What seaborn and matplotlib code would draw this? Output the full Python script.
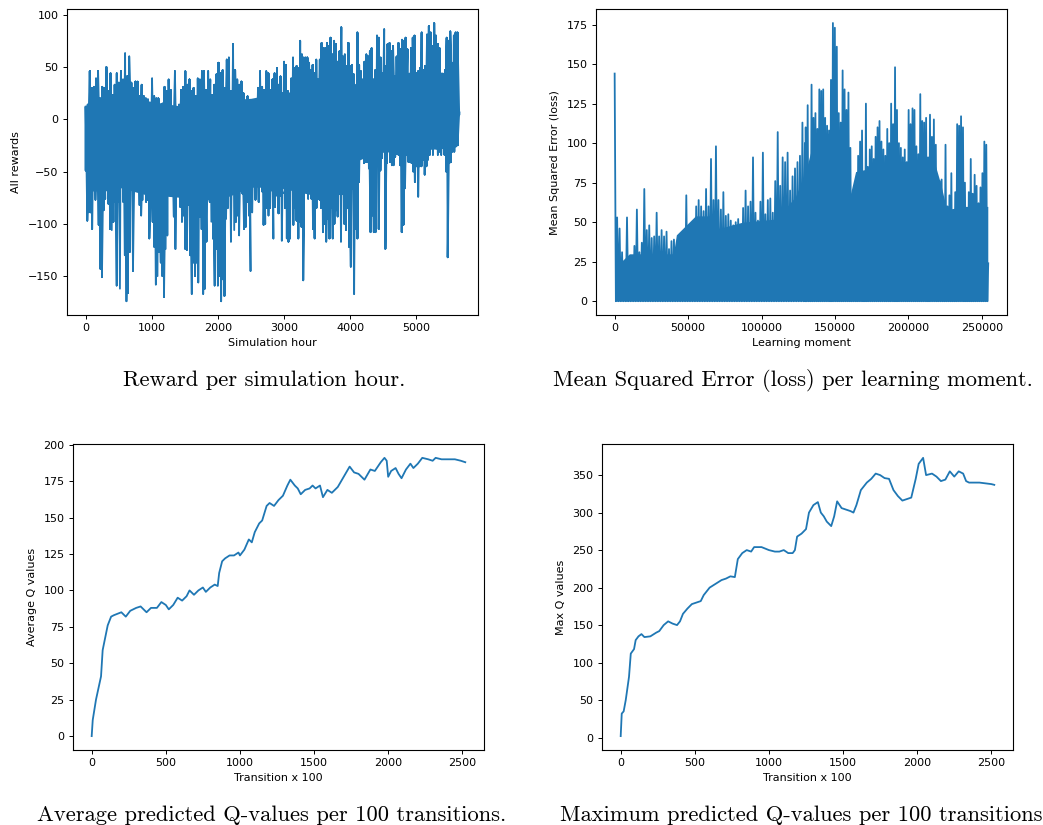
import numpy as np
import matplotlib
matplotlib.use('Agg')
import matplotlib.pyplot as plt
import seaborn as sns

# Reward per simulation hour: spike tips, first half (0-2890 h)
reward_peaks_a = [12, 14, 46, 30, 31, 39, 46, 20, 31, 30, 50, 27, 44, 23, 33, 44, 35, 46, 38, 63,
                  41, 60, 35, 30, 36, 36, 22, 33, 22, 20, 19, 15, 39, 22, 20, 20, 7, 15, 31, 27,
                  38, 28, 11, 46, 7, 14, 28, 31, 46, 33, 38, 27, 30, 22, 39, 38, 46, 46, 28, 46,
                  38, 23, 33, 43, 54, 44, 47, 30, 57, 59, 27, 72, 47, 38, 33, 36, 25, 12, 22, 1,
                  11, 1, 11, 30, 46, 31, 28, 46, 44, 28, 38, 44, 38]
reward_lows_a = [-49, -97, -89, -89, -105, -68, -77, -68, -101, -143, -151, -87, -76, -68, -81, -105,
                 -106, -98, -79, -159, -79, -162, -31, -79, -130, -174, -166, -127, -28, -145, -29,
                 -55, -60, -82, -92, -77, -60, -79, -77, -114, -76, -98, -122, -158, -150, -127,
                 -137, -150, -170, -124, -111, -60, -73, -68, -93, -124, -68, -49, -84, -98, -92,
                 -124, -125, -82, -130, -167, -137, -150, -137, -156, -93, -105, -167, -162, -117,
                 -55, -79, -98, -114, -159, -124, -159, -150, -174, -153, -169, -95, -85, -58, -117,
                 -63, -106, -98, -92, -111, -61, -71, -105, -103, -79, -92, -145, -89, -60, -77,
                 -60, -79, -61, -69, -101, -100, -85, -92, -85, -68, -114, -84, -55]
# second half (2890-5650 h)
reward_peaks_b = [49, 33, 41, 25, 55, 52, 27, 19, 39, 59, 49, 51, 49, 75, 62, 59, 59, 59, 54, 47,
                  52, 44, 57, 38, 57, 73, 68, 68, 73, 70, 78, 62, 75, 72, 55, 65, 88, 60, 62, 51,
                  73, 51, 52, 43, 28, 83, 52, 46, 38, 55, 62, 60, 65, 68, 38, 47, 80, 78, 59, 44,
                  86, 51, 72, 73, 65, 70, 41, 60, 73, 67, 76, 75, 78, 67, 38, 68, 78, 80, 44, 46,
                  49, 83, 47, 51, 81, 89, 83, 70, 92, 80, 72, 68, 39, 43, 47, 78, 75, 84, 54, 80,
                  83, 83, 7]
reward_lows_b = [-73, -90, -73, -116, -61, -85, -114, -117, -114, -53, -101, -85, -97, -114, -98,
                 -103, -154, -66, -50, -76, -33, -76, -105, -114, -85, -76, -77, -85, -108, -100,
                 -117, -95, -114, -85, -114, -100, -87, -93, -63, -117, -68, -100, -106, -85, -122,
                 -141, -66, -167, -105, -114, -60, -31, -31, -42, -41, -41, -47, -108, -92, -108,
                 -108, -44, -105, -49, -37, -29, -124, -42, -28, -41, -44, -44, -36, -33, -34, -44,
                 -108, -101, -66, -34, -41, -41, -42, -50, -60, -45, -74, -45, -45, -39, -53, -45,
                 -39, -34, -25, -34, -25, -28, -34, -31, -34, -26, -34, -50, -132, -42, -41, -31,
                 -31, -26, -25, 4]
# band in which the reward trace is drawn solid
reward_core_hour = [0, 100, 500, 900, 1500, 2000, 2500, 2900, 3400, 3900, 4100, 4400, 4900, 5400, 5640]
reward_core_hi = [0, 15, 20, 18, 12, 18, 20, 25, 28, 28, 35, 40, 45, 45, 30]
reward_core_lo = [-40, -60, -65, -72, -75, -78, -65, -65, -72, -72, -40, -32, -30, -28, -20]

# MSE loss per learning moment: spike tips (the loss falls back to ~0 between them)
mse_peaks_a = [144, 53, 46, 31, 23, 53, 20, 26, 35, 58, 31, 37, 71, 45, 48, 40, 41, 56, 41, 45,
               41, 44, 33, 38, 39, 32, 36, 35, 36, 67, 46, 45, 50, 60, 64, 60, 57, 71, 60, 90,
               64, 98, 64, 58, 69, 54, 55, 51, 48, 50, 52, 48, 59, 70, 60, 63, 91, 56, 51, 63,
               94, 55, 64, 65, 56, 76, 107, 73, 91, 88, 94, 70, 79, 84, 88, 92, 113, 100]
mse_peaks_b = [110, 124, 76, 137, 116, 119, 109, 134, 133, 134, 116, 111, 108, 140, 176, 173, 161,
               119, 113, 146, 134, 121, 132, 97, 65, 73, 70, 92, 101, 108, 81, 125, 85, 96, 98,
               90, 104, 110, 114, 101, 96, 92, 109, 100, 125, 112, 148, 121, 100, 97, 91, 96, 88,
               121, 112, 122, 121, 98, 93, 131, 114, 113, 116, 91, 118, 104, 115, 99, 77, 76, 77,
               41, 99, 60, 67, 81, 56, 69, 112, 111, 117, 110, 75, 41, 69, 90, 68, 80, 73, 62, 72,
               81, 101, 99, 24]
mse_floor = 0
# level up to which the loss trace is drawn solid
mse_base_moment = [0, 1000, 10000, 40000, 42000, 55000, 69000, 71000, 87000, 110000, 123000,
                   130000, 135000, 148000, 157000, 159000, 164000, 194000, 217000, 222000,
                   226000, 239000, 254000]
mse_base = [0, 22, 30, 30, 42, 54, 54, 46, 50, 52, 66, 82, 100, 108, 108, 62, 82, 88, 90, 74,
            58, 60, 60]

# Q values per 100 transitions
q_avg_step = [0, 7, 29, 63, 74, 92, 108, 131, 150, 200, 230, 260, 300, 330, 370, 400, 440, 470,
              500, 520, 550, 580, 610, 640, 660, 690, 720, 750, 770, 800, 830, 850, 860, 880, 900,
              930, 960, 990, 1000, 1030, 1060, 1080, 1100, 1130, 1150, 1180, 1200, 1230, 1260,
              1290, 1320, 1340, 1370, 1390, 1410, 1440, 1470, 1490, 1510, 1540, 1560, 1590, 1620,
              1660, 1700, 1740, 1770, 1800, 1840, 1880, 1910, 1950, 1975, 1990, 2000, 2020, 2050,
              2070, 2090, 2120, 2150, 2170, 2200, 2230, 2270, 2300, 2320, 2360, 2400, 2450, 2490,
              2520]
q_avg = [0, 11, 25, 41, 59, 68, 76, 82, 83, 85, 82, 86, 88, 89, 85, 88, 88, 92, 90, 87, 90, 95,
         93, 96, 100, 97, 100, 102, 99, 102, 104, 103, 112, 120, 122, 124, 124, 126, 124, 128, 135,
         133, 140, 146, 148, 158, 160, 158, 162, 165, 172, 176, 172, 170, 166, 169, 170, 172, 170,
         172, 164, 169, 167, 171, 178, 185, 181, 180, 176, 183, 182, 188, 191, 189, 178, 182, 184,
         180, 177, 183, 187, 184, 187, 191, 190, 189, 191, 190, 190, 190, 189, 188]
q_max_step = [0, 7, 20, 34, 56, 68, 90, 101, 120, 140, 160, 200, 240, 260, 290, 320, 350, 380, 400,
              420, 450, 480, 510, 540, 560, 600, 640, 680, 710, 740, 770, 790, 820, 850, 880, 900,
              950, 1000, 1040, 1070, 1100, 1130, 1160, 1175, 1190, 1220, 1250, 1270, 1300, 1330,
              1350, 1370, 1390, 1420, 1440, 1460, 1490, 1520, 1550, 1570, 1590, 1620, 1660, 1690,
              1720, 1750, 1780, 1810, 1840, 1870, 1900, 1930, 1960, 1990, 2010, 2040, 2060, 2100,
              2130, 2160, 2190, 2220, 2250, 2280, 2310, 2330, 2350, 2380, 2420, 2460, 2500, 2520]
q_max = [2, 32, 35, 50, 81, 112, 118, 130, 135, 138, 134, 135, 140, 142, 150, 155, 152, 150, 155,
         165, 172, 178, 180, 182, 190, 200, 205, 210, 212, 215, 214, 238, 246, 250, 248, 254, 254,
         250, 248, 248, 250, 246, 246, 250, 268, 272, 278, 300, 310, 314, 300, 295, 288, 282, 295,
         315, 306, 304, 302, 300, 310, 330, 340, 345, 352, 350, 346, 345, 330, 322, 316, 318, 320,
         345, 365, 373, 350, 352, 348, 342, 344, 355, 348, 355, 352, 342, 340, 340, 340, 339, 338,
         337]

BLUE = '#1f77b4'
LW = 1.3
FS = 8


def zigzag(highs, lows, start, stop):
    """Join every tip to its nearest tip on the other side, so the dense trace fills in."""
    xh = np.linspace(start, stop, len(highs))
    xl = np.linspace(start, stop, len(lows))
    xs, ys = [], []
    for x, h in zip(xh, highs):
        j = int(np.abs(xl - x).argmin())
        xs += [x, xl[j]]
        ys += [h, lows[j]]
    for x, l in zip(xl, lows):
        j = int(np.abs(xh - x).argmin())
        xs += [x, xh[j]]
        ys += [l, highs[j]]
    return xs, ys


def style(ax, xlabel, ylabel):
    ax.set_xlabel(xlabel, fontsize=FS, labelpad=3.5)
    ax.set_ylabel(ylabel, fontsize=FS, labelpad=5)
    ax.tick_params(labelsize=FS, length=3, width=0.7, pad=3)
    for s in ax.spines.values():
        s.set_linewidth(0.8)


fig = plt.figure(figsize=(10.43, 8.25), dpi=100)

# 1. reward per hour
ax1 = fig.add_axes([0.0642, 0.618, 0.394, 0.371])
ax1.fill_between(reward_core_hour, reward_core_lo, reward_core_hi, color=BLUE, lw=0)
for hi, lo, a, b in [(reward_peaks_a, reward_lows_a, 0, 2890),
                     (reward_peaks_b, reward_lows_b, 2894, 5652)]:
    xs, ys = zigzag(hi, lo, a, b)
    sns.lineplot(x=xs, y=ys, ax=ax1, estimator=None, sort=False, color=BLUE, lw=LW)
style(ax1, 'Simulation hour', 'All rewards')

# 2. mse loss
ax2 = fig.add_axes([0.5714, 0.618, 0.394, 0.371])
peaks = mse_peaks_a + mse_peaks_b
xp = np.concatenate([np.linspace(0, 129500, len(mse_peaks_a)),
                     np.linspace(130070, 254300, len(mse_peaks_b))])
xm, ym = [], []
for i, (x, p) in enumerate(zip(xp, peaks)):
    xm.append(x)
    ym.append(p)
    if i < len(peaks) - 1:
        xm.append((x + xp[i + 1]) / 2)
        ym.append(mse_floor)
ax2.fill_between(mse_base_moment, mse_floor, mse_base, color=BLUE, lw=0)
sns.lineplot(x=xm, y=ym, ax=ax2, estimator=None, sort=False, color=BLUE, lw=LW)
style(ax2, 'Learning moment', 'Mean Squared Error (loss)')

# 3. average Q
ax3 = fig.add_axes([0.070, 0.0909, 0.394, 0.371])
sns.lineplot(x=q_avg_step, y=q_avg, ax=ax3, estimator=None, sort=False, color=BLUE, lw=LW)
style(ax3, 'Transition x 100', 'Average Q values')

# 4. max Q
ax4 = fig.add_axes([0.5772, 0.0909, 0.394, 0.371])
sns.lineplot(x=q_max_step, y=q_max, ax=ax4, estimator=None, sort=False, color=BLUE, lw=LW)
style(ax4, 'Transition x 100', 'Max Q values')

# captions under each panel
cap = dict(fontfamily='cmr10', fontsize=16.2, va='baseline')
fig.text(264.5 / 1043, 1 - 386 / 825, 'Reward per simulation hour.', ha='center', **cap)
fig.text(793 / 1043, 1 - 386 / 825, 'Mean Squared Error (loss) per learning moment.', ha='center', **cap)
fig.text(272 / 1043, 1 - 821 / 825, 'Average predicted Q-values per 100 transitions.', ha='center', **cap)
fig.text(560 / 1043, 1 - 821 / 825, 'Maximum predicted Q-values per 100 transitions', ha='left', **cap)

fig.savefig('out.png', dpi=100)
